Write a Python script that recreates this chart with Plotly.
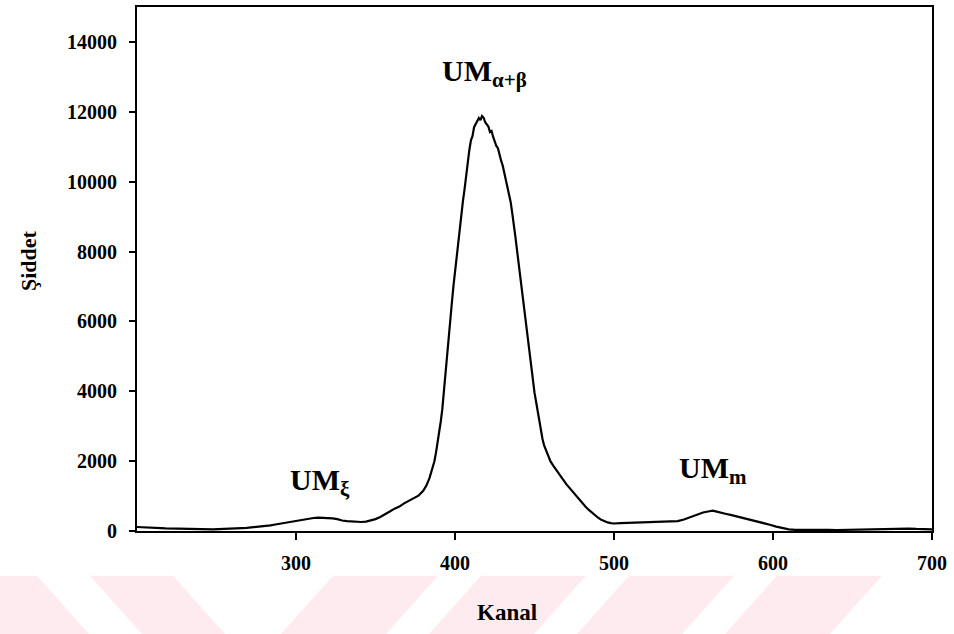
import plotly.graph_objects as go

# ---------------- data ----------------
kanal = [
    200, 203, 206, 209, 212, 215, 218, 221, 224, 227,
    230, 233, 236, 239, 242, 245, 248, 251, 254, 257,
    260, 263, 266, 269, 272, 275, 278, 281, 284, 287,
    290, 293, 296, 299, 302, 305, 308, 311, 314, 317,
    320, 323, 326, 329, 332, 335, 338, 341, 344, 347,
    350, 353, 356, 359, 362, 365, 368, 371, 374, 377,
    380, 382, 384, 386, 387, 388, 389, 390, 391, 392,
    393, 394, 395, 396, 397, 398, 399, 400, 401, 402,
    403, 404, 405, 406, 407, 408, 409, 410, 411, 412,
    413, 414, 415, 416, 417, 418, 419, 420, 421, 422,
    423, 424, 425, 426, 427, 428, 429, 430, 431, 432,
    433, 434, 435, 436, 437, 438, 439, 440, 441, 442,
    443, 444, 445, 446, 447, 448, 449, 450, 451, 452,
    453, 454, 455, 456, 458, 460, 462, 464, 466, 468,
    470, 472, 474, 476, 478, 480, 482, 484, 486, 488,
    490, 492, 494, 496, 498, 500, 504, 508, 512, 516,
    520, 524, 528, 532, 536, 540, 544, 548, 552, 556,
    560, 562, 564, 566, 570, 574, 578, 582, 586, 590,
    594, 598, 602, 606, 610, 614, 618, 622, 626, 630,
    635, 640, 645, 650, 655, 660, 665, 670, 675, 680,
    685, 690, 695, 700,
]
siddet = [
    115, 104, 98, 92, 86, 80, 74, 70, 66, 60,
    58, 52, 50, 44, 46, 50, 48, 56, 58, 64,
    70, 76, 82, 90, 100, 110, 122, 140, 160, 185,
    210, 235, 260, 290, 310, 335, 360, 372, 385, 380,
    378, 360, 340, 300, 285, 270, 262, 258, 270, 300,
    340, 400, 470, 560, 640, 700, 790, 860, 920, 1010,
    1150, 1300, 1520, 1800, 1990, 2230, 2500, 2860, 3120, 3480,
    3950, 4420, 4950, 5480, 6050, 6520, 7000, 7420, 7880, 8250,
    8700, 9020, 9450, 9780, 10200, 10520, 10900, 11180, 11300, 11560,
    11640, 11700, 11820, 11760, 11880, 11830, 11700, 11640, 11580, 11420,
    11450, 11280, 11150, 11020, 10960, 10740, 10600, 10460, 10250, 10080,
    9900, 9680, 9420, 9100, 8800, 8420, 8040, 7660, 7330, 6950,
    6650, 6300, 5900, 5520, 5110, 4720, 4330, 3960, 3700, 3420,
    3120, 2860, 2640, 2460, 2220, 2000, 1860, 1720, 1580, 1470,
    1340, 1230, 1120, 1000, 900, 800, 700, 610, 530, 450,
    380, 320, 280, 245, 225, 215, 225, 230, 245, 250,
    242, 258, 250, 262, 270, 285, 330, 400, 470, 530,
    565, 580, 560, 545, 495, 455, 410, 375, 330, 290,
    240, 180, 125, 80, 45, 35, 30, 28, 32, 25,
    30, 28, 35, 32, 40, 38, 45, 50, 55, 62,
    70, 58, 52, 45,
]

x_ticks = [300, 400, 500, 600, 700]
y_ticks = [0, 2000, 4000, 6000, 8000, 10000, 12000, 14000]

peak_labels = ["UM<sub>ξ</sub>", "UM<sub>α+β</sub>", "UM<sub>m</sub>"]
peak_label_x = [315, 418.5, 562]
peak_label_y = [1400, 13100, 1750]

x_title = "Kanal"
y_title = "Şiddet"

# ---------------- figure ----------------
W, H = 954, 634
ML, MR, MT, MB = 137, 22, 5, 103
PW, PH = W - ML - MR, H - MT - MB

def px(xpix):
    return (xpix - ML) / PW

def py(ypix):
    return (H - MB - ypix) / PH

SERIF = "Liberation Serif, Times New Roman, serif"

fig = go.Figure()
fig.add_trace(go.Scatter(
    x=kanal, y=siddet, mode="lines",
    line=dict(color="black", width=2.2),
    hoverinfo="skip", showlegend=False,
))

for t, xx, yy in zip(peak_labels, peak_label_x, peak_label_y):
    fig.add_annotation(x=xx, y=yy, xref="x", yref="y", text=t,
                       showarrow=False, xanchor="center", yanchor="middle",
                       font=dict(family=SERIF, size=30, color="black", weight="bold"))

# axis titles
fig.add_annotation(x=px(507), y=py(613), xref="paper", yref="paper",
                   text=x_title, showarrow=False, xanchor="center", yanchor="middle",
                   font=dict(family=SERIF, size=23, color="black", weight="bold"))
fig.add_annotation(x=px(28), y=py(260), xref="paper", yref="paper",
                   text=y_title, showarrow=False, textangle=-90,
                   xanchor="center", yanchor="middle",
                   font=dict(family=SERIF, size=22, color="black", weight="bold"))

# watermark stripes at the bottom
PINK = "#FDEBEF"
ytop, ybot = 576, 640
stripes = [
    ((-60, 37), (-3, 94)),
    ((90, 173), (147, 230)),
    ((333, 438), (276, 381)),
    ((481, 586), (424, 529)),
    ((629, 734), (572, 677)),
    ((777, 882), (720, 825)),
]
for (t0, t1), (b0, b1) in stripes:
    path = (f"M {px(t0)},{py(ytop)} L {px(t1)},{py(ytop)} "
            f"L {px(b1)},{py(ybot)} L {px(b0)},{py(ybot)} Z")
    fig.add_shape(type="path", path=path, xref="paper", yref="paper",
                  fillcolor=PINK, line=dict(width=0), layer="below")

fig.update_layout(
    width=W, height=H,
    margin=dict(l=ML, r=MR, t=MT, b=MB, pad=0),
    paper_bgcolor="white", plot_bgcolor="white",
    showlegend=False,
)
fig.update_xaxes(
    range=[200, 700], tickvals=x_ticks, ticktext=[str(v) for v in x_ticks],
    showgrid=False, zeroline=False,
    showline=True, linecolor="black", linewidth=2, mirror=True,
    ticks="outside", ticklen=7, tickwidth=1.5, tickcolor="black",
    tickfont=dict(family=SERIF, size=20, color="black", weight="bold"),
    ticklabelstandoff=6,
)
fig.update_yaxes(
    range=[0, 15000], tickvals=y_ticks, ticktext=[str(v) for v in y_ticks],
    showgrid=False, zeroline=False,
    showline=True, linecolor="black", linewidth=2, mirror=True,
    ticks="outside", ticklen=6, tickwidth=1.5, tickcolor="black",
    tickfont=dict(family=SERIF, size=20, color="black", weight="bold"),
    ticklabelstandoff=8,
)

fig.write_html("out.html",
               config={"displayModeBar": False},
               post_script="document.body.style.margin='0px';document.body.style.padding='0px';")
